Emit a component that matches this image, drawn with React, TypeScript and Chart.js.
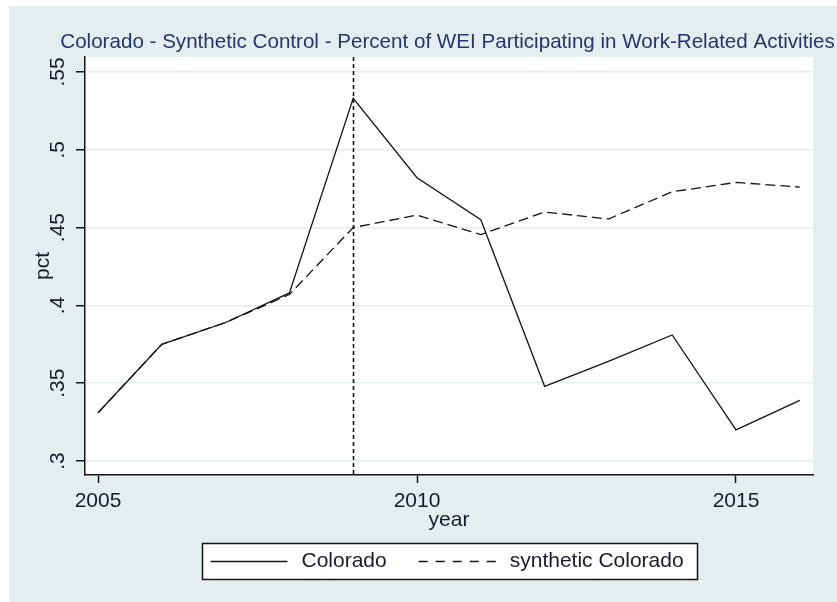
import { useEffect, useRef } from "react";
import { Chart, registerables } from "chart.js";

Chart.register(...registerables);

// Annual series
const years = [2005, 2006, 2007, 2008, 2009, 2010, 2011, 2012, 2013, 2014, 2015, 2016];
const colorado = [0.331, 0.375, 0.389, 0.408, 0.533, 0.482, 0.455, 0.348, 0.364, 0.381, 0.32, 0.339];
const syntheticColorado = [0.331, 0.375, 0.389, 0.407, 0.45, 0.458, 0.4455, 0.46, 0.4555, 0.473, 0.479, 0.476];

// Axis ticks
const xTickYears = [2005, 2010, 2015];
const yTickValues = [0.3, 0.35, 0.4, 0.45, 0.5, 0.55];
const treatmentYear = 2009;

const titleText =
  "Colorado - Synthetic Control - Percent of WEI Participating in Work-Related Activities";
const seriesLabels = ["Colorado", "synthetic Colorado"];

const FONT = "'Liberation Sans', Arial, sans-serif";
const SIZE = 21;
const TITLE_SIZE = 20.6;
const OUTER_BG = "#e4edf0";
const GRID = "#e3edf0";
const INK = "#141414";
const TEXT = "#1a1a2e";
const TITLE = "#24366b";

const fmtTick = (v: number) => String(Number(v.toFixed(2))).replace(/^0/, "");

// Page background, outer panel and white plot region
const panelPlugin = {
  id: "panel",
  beforeDraw(chart: any) {
    const { ctx, chartArea, width, height } = chart;
    ctx.save();
    ctx.fillStyle = "#ffffff";
    ctx.fillRect(0, 0, width, height);
    ctx.fillStyle = OUTER_BG;
    ctx.fillRect(9, 6, width - 9, height - 6);
    ctx.fillStyle = "#ffffff";
    ctx.fillRect(chartArea.left, chartArea.top, chartArea.right - chartArea.left, chartArea.bottom - chartArea.top);
    ctx.restore();
  },
};

// Title centred over the plot region
const plotTitlePlugin = {
  id: "plotTitle",
  afterDraw(chart: any) {
    const { ctx, chartArea } = chart;
    ctx.save();
    ctx.font = `${TITLE_SIZE}px ${FONT}`;
    ctx.fillStyle = TITLE;
    ctx.textAlign = "center";
    ctx.textBaseline = "middle";
    ctx.fillText(titleText, (chartArea.left + chartArea.right) / 2 - 1.5, chartArea.top - 15);
    ctx.restore();
  },
};

// Dashed reference line at the treatment year
const treatmentLinePlugin = {
  id: "treatmentLine",
  afterDatasetsDraw(chart: any) {
    const { ctx, chartArea, scales } = chart;
    const x = Math.round(scales.x.getPixelForValue(treatmentYear)) + 0.5;
    ctx.save();
    ctx.strokeStyle = INK;
    ctx.lineWidth = 1.6;
    ctx.setLineDash([4, 3]);
    ctx.beginPath();
    ctx.moveTo(x, chartArea.top);
    ctx.lineTo(x, chartArea.bottom);
    ctx.stroke();
    ctx.restore();
  },
};

// Framed legend below the axis title
const boxedLegendPlugin = {
  id: "boxedLegend",
  afterDraw(chart: any) {
    const { ctx, chartArea } = chart;
    const sampleW = 77;
    const sampleGap = 14;
    const itemGap = 32;
    const padL = 8;
    const padR = 14;
    const boxH = 36;
    ctx.save();
    ctx.font = `${SIZE}px ${FONT}`;
    const items = chart.data.datasets.map((ds: any) => ({
      label: ds.label as string,
      dashed: (ds.borderDash || []).length > 0,
      w: ctx.measureText(ds.label).width,
    }));
    const contentW =
      items.reduce((s: number, it: any) => s + sampleW + sampleGap + it.w, 0) + itemGap * (items.length - 1);
    const boxW = Math.round(contentW + padL + padR);
    const cx = (chartArea.left + chartArea.right) / 2;
    const left = Math.round(cx - boxW / 2) + 0.5;
    const top = Math.round(chartArea.bottom + 68) + 0.5;
    ctx.fillStyle = "#ffffff";
    ctx.fillRect(left, top, boxW, boxH);
    ctx.strokeStyle = INK;
    ctx.lineWidth = 1.5;
    ctx.strokeRect(left, top, boxW, boxH);
    const cy = top + boxH / 2;
    let x = left + padL;
    items.forEach((it: any) => {
      ctx.strokeStyle = INK;
      ctx.lineWidth = 1.3;
      ctx.setLineDash(it.dashed ? [9, 8] : []);
      ctx.beginPath();
      ctx.moveTo(x, cy);
      ctx.lineTo(x + sampleW, cy);
      ctx.stroke();
      ctx.setLineDash([]);
      x += sampleW + sampleGap;
      ctx.fillStyle = TEXT;
      ctx.textBaseline = "middle";
      ctx.textAlign = "left";
      ctx.fillText(it.label, x, cy);
      x += it.w + itemGap;
    });
    ctx.restore();
  },
};

export default function App() {
  const canvasRef = useRef<HTMLCanvasElement | null>(null);

  useEffect(() => {
    if (!canvasRef.current) return;
    Chart.defaults.font.family = FONT;
    const chart = new Chart(canvasRef.current, {
      type: "line",
      data: {
        datasets: [
          {
            label: seriesLabels[0],
            data: years.map((yr, i) => ({ x: yr, y: colorado[i] })),
            borderColor: INK,
            borderWidth: 1.3,
            pointRadius: 0,
            tension: 0,
          },
          {
            label: seriesLabels[1],
            data: years.map((yr, i) => ({ x: yr, y: syntheticColorado[i] })),
            borderColor: INK,
            borderWidth: 1.3,
            borderDash: [10, 5],
            pointRadius: 0,
            tension: 0,
          },
        ],
      },
      options: {
        responsive: false,
        animation: false,
        devicePixelRatio: 1,
        layout: { padding: { top: 57, left: 0, right: 24, bottom: 0 } },
        plugins: {
          legend: { display: false },
          tooltip: { enabled: false },
          title: { display: false },
        },
        scales: {
          x: {
            type: "linear",
            min: 2004.796,
            max: 2016.207,
            afterBuildTicks: (scale: any) => {
              scale.ticks = xTickYears.map((v) => ({ value: v }));
            },
            afterFit: (scale: any) => {
              scale.height = 127;
            },
            ticks: {
              color: TEXT,
              font: { family: FONT, size: SIZE },
              padding: 6,
              maxRotation: 0,
              autoSkip: false,
              callback: (v: any) => String(v),
            },
            grid: { drawOnChartArea: false, drawTicks: true, tickLength: 8, tickColor: INK, tickWidth: 1.5 },
            border: { display: true, color: INK, width: 1.5 },
            title: {
              display: true,
              text: "year",
              color: TEXT,
              font: { family: FONT, size: SIZE },
              padding: { top: 0, bottom: 69.5 },
            },
          },
          y: {
            type: "linear",
            min: 0.291,
            max: 0.5596,
            afterBuildTicks: (scale: any) => {
              scale.ticks = yTickValues.map((v) => ({ value: v }));
            },
            afterFit: (scale: any) => {
              scale.width = 85;
            },
            ticks: {
              color: TEXT,
              font: { family: FONT, size: SIZE },
              padding: 3,
              minRotation: 90,
              maxRotation: 90,
              crossAlign: "center",
              autoSkip: false,
              callback: (v: any) => fmtTick(Number(v)),
            },
            grid: { color: GRID, lineWidth: 1.5, drawTicks: true, tickLength: 9, tickColor: INK, tickWidth: 1.5 },
            border: { display: true, color: INK, width: 1.5 },
            title: {
              display: true,
              text: "pct",
              color: TEXT,
              font: { family: FONT, size: SIZE },
              padding: { top: 30.5, bottom: 0 },
            },
          },
        },
      },
      plugins: [panelPlugin, treatmentLinePlugin, boxedLegendPlugin, plotTitlePlugin],
    } as any);
    return () => chart.destroy();
  }, []);

  return (
    <div style={{ position: "absolute", left: 0, top: 0, width: 837, height: 602 }}>
      <canvas ref={canvasRef} width={837} height={602} style={{ display: "block", width: 837, height: 602 }} />
    </div>
  );
}
